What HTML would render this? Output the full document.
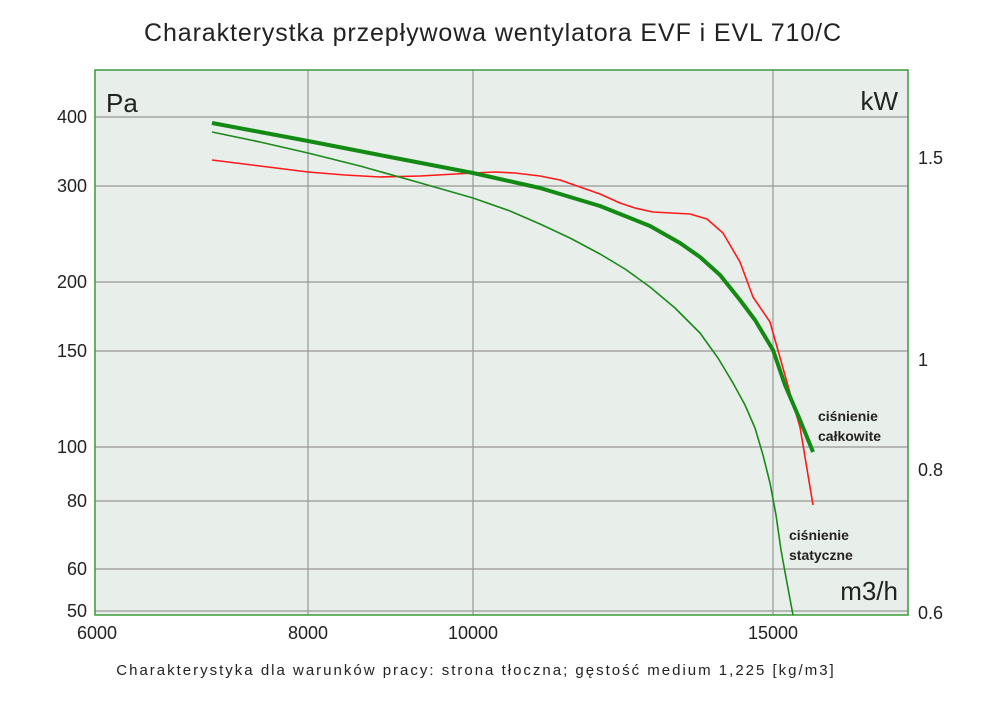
<!DOCTYPE html>
<html><head><meta charset="utf-8"><style>
body{margin:0;background:#fff;}
svg text{font-family:"Liberation Sans","DejaVu Sans",sans-serif;fill:#222;}
</style></head><body>
<svg width="1000" height="706" viewBox="0 0 1000 706" xmlns="http://www.w3.org/2000/svg">
<rect width="1000" height="706" fill="#fff"/>
<text x="493" y="41" font-size="25" text-anchor="middle" letter-spacing="0.9">Charakterystka przepływowa wentylatora EVF i EVL 710/C</text>
<rect x="95" y="70" width="813" height="545" fill="#e8eee9"/>
<g stroke="#999" stroke-width="1.2">
<line x1="95" y1="117" x2="908" y2="117"/>
<line x1="95" y1="186" x2="908" y2="186"/>
<line x1="95" y1="282" x2="908" y2="282"/>
<line x1="95" y1="351" x2="908" y2="351"/>
<line x1="95" y1="447" x2="908" y2="447"/>
<line x1="95" y1="501" x2="908" y2="501"/>
<line x1="95" y1="569" x2="908" y2="569"/>
<line x1="95" y1="611" x2="908" y2="611"/>
<line x1="308" y1="70" x2="308" y2="615"/>
<line x1="473" y1="70" x2="473" y2="615"/>
<line x1="773" y1="70" x2="773" y2="615"/>
</g>
<rect x="95" y="70" width="813" height="545" fill="none" stroke="#3a9a3a" stroke-width="1.5"/>
<polyline fill="none" stroke="#ff1a1a" stroke-width="1.6" stroke-linejoin="round" points="212,160 260,166 308,172 345,175 380,177 420,176 473,173 495,172 515,173 540,176 560,180 580,187 600,194 620,203 635,208 653,212 690,214 707,219 723,233 740,262 753,297 770,322 790,393 800,427 813,505"/>
<polyline fill="none" stroke="#1a8a1a" stroke-width="1.6" stroke-linejoin="round" points="212,132 260,142 308,153 360,166 410,180 473,198 510,211 540,224 570,238 600,254 625,269 650,287 675,308 700,333 718,358 733,383 745,405 755,428 763,455 770,483 776,515 781,550 787,583 793,615"/>
<polyline fill="none" stroke="#138a13" stroke-width="4" stroke-linejoin="round" points="212,123 260,132 308,141 390,157 473,173 540,188 600,206 650,226 680,243 700,257 720,275 740,300 755,320 773,350 785,385 800,420 813,452"/>
<text x="106" y="112" font-size="26">Pa</text>
<text x="898" y="110" font-size="26" text-anchor="end">kW</text>
<text x="898" y="600" font-size="26" text-anchor="end">m3/h</text>
<g font-size="14" font-weight="bold" fill="#222">
<text x="818" y="421">ciśnienie</text>
<text x="818" y="441">całkowite</text>
<text x="789" y="540">ciśnienie</text>
<text x="789" y="560">statyczne</text>
</g>
<g font-size="18" text-anchor="end">
<text x="87" y="123">400</text>
<text x="87" y="192">300</text>
<text x="87" y="288">200</text>
<text x="87" y="357">150</text>
<text x="87" y="453">100</text>
<text x="87" y="507">80</text>
<text x="87" y="575">60</text>
<text x="87" y="617">50</text>
</g>
<g font-size="18">
<text x="918" y="164">1.5</text>
<text x="918" y="366">1</text>
<text x="918" y="476">0.8</text>
<text x="918" y="619">0.6</text>
</g>
<g font-size="18" text-anchor="middle">
<text x="97" y="639">6000</text>
<text x="308" y="639">8000</text>
<text x="473" y="639">10000</text>
<text x="773" y="639">15000</text>
</g>
<text x="476" y="675" font-size="15" text-anchor="middle" letter-spacing="2">Charakterystyka dla warunków pracy: strona tłoczna; gęstość medium 1,225 [kg/m3]</text>
</svg>
</body></html>
